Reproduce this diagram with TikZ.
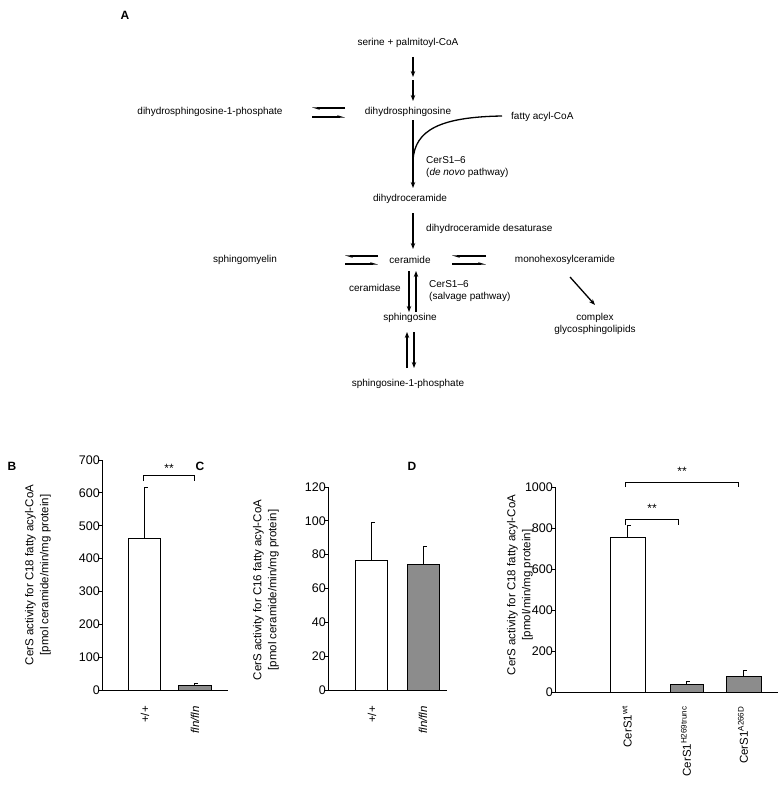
\documentclass[tikz,border=0pt]{standalone}
\usepackage{fontspec}
\setmainfont{Liberation Sans}
\usetikzlibrary{arrows.meta, positioning}
\tikzset{
  txt/.style={font=\fontsize{10}{12}\selectfont, inner sep=1pt},
  rxn/.style={-{Stealth[length=6pt,width=4.5pt]}, line width=1.3pt},
  half/.style={-{Stealth[length=6pt,width=3.5pt,left]}, line width=1.3pt},
  bar/.style={draw, line width=0.9pt},
  ax/.style={line width=0.9pt},
  tick/.style={font=\fontsize{12.5}{14}\selectfont, anchor=east, inner sep=2pt},
  ylab/.style={font=\fontsize{11.5}{15}\selectfont, rotate=90, align=center},
  cat/.style={font=\fontsize{11.5}{14}\selectfont, rotate=90, anchor=east, inner sep=1pt},
  panel/.style={font=\bfseries\fontsize{12}{14}\selectfont}
}
\definecolor{bargray}{rgb}{0.55,0.55,0.55}

\begin{document}
\begin{tikzpicture}[x=1pt,y=-1pt]
  \useasboundingbox (0,0) rectangle (778,800);

  % panel A: pathway
  \node[panel] (lA) at (125,15) {A};
  \node[txt] (ser)  at (408,43)  {serine + palmitoyl-CoA};
  \node[txt] (dhs)  at (408,112) {dihydrosphingosine};
  \node[txt] (dhsp) at (210,112) {dihydrosphingosine-1-phosphate};
  \node[txt, anchor=west] (fac) at (510,117) {fatty acyl-CoA};
  \node[txt] (dhc)  at (410,199) {dihydroceramide};
  \node[txt] (cer)  at (410,260) {ceramide};
  \node[txt] (sm)   at (245,260) {sphingomyelin};
  \node[txt] (mhc)  at (565,260) {monohexosylceramide};
  \node[txt, align=center] (cgs) at (595,324) {complex\\glycosphingolipids};
  \node[txt] (sph)  at (410,318) {sphingosine};
  \node[txt] (sphp) at (408,384) {sphingosine-1-phosphate};
  \node[txt, anchor=west, align=left] (cs1) at (425,167) {CerS1–6\\(\textit{de novo} pathway)};
  \node[txt, anchor=west] (des) at (425,229) {dihydroceramide desaturase};
  \node[txt, anchor=east] (cdase) at (402,288) {ceramidase};
  \node[txt, anchor=west, align=left] (cs2) at (428,291) {CerS1–6\\(salvage pathway)};

  \draw[rxn] (413,57) -- (413,77);
  \draw[rxn] (413,80) -- (413,101);
  \draw[half] (345,108) -- (312,108);
  \draw[half] (312,117) -- (345,117);
  \draw[rxn] (413,120) -- (413,188);
  \draw[line width=1.3pt] (502,116) .. controls (440,117) and (415,130) .. (413,160);
  \draw[rxn] (413,213) -- (413,249);
  \draw[half] (378,256) -- (345,256);
  \draw[half] (345,264) -- (378,264);
  \draw[half] (486,256) -- (452,256);
  \draw[half] (452,264) -- (486,264);
  \draw[rxn] (570,277) -- (595,305);
  \draw[rxn] (409,271) -- (409,312);
  \draw[rxn] (416,312) -- (416,271);
  \draw[rxn] (407,368) -- (407,332);
  \draw[rxn] (414,332) -- (414,368);

  % panel B
  \node[panel] (lB) at (12,466) {B};
  \foreach \v in {0,100,...,700}
    \node[tick] at (102,{690-230/700*\v}) {\v};
  \foreach \v in {0,100,...,700}
    \draw[ax] (102,{690-230/700*\v}) -- (98,{690-230/700*\v});
  \draw[ax] (102,460) -- (102,690) -- (228,690);
  \draw[bar, fill=white] (128,690) rectangle (160,538.5);
  \draw[ax] (144,538.5) -- (144,487) -- (148,487);
  \draw[bar, fill=bargray] (178,690) rectangle (211,685);
  \draw[ax] (194,685) -- (194,683.5) -- (198,683.5);
  \draw[ax] (143,481) -- (143,475) -- (194,475) -- (194,481);
  \node[font=\fontsize{12}{14}\selectfont] at (169,468) {**};
  \node[ylab] at (38,575) {CerS activity for C18 fatty acyl-CoA\\{[pmol ceramide/min/mg protein]}};
  \node[cat] at (145,705) {+/+};
  \node[cat] at (195,705) {\textit{fln/fln}};

  % panel C
  \node[panel] (lC) at (200,466) {C};
  \foreach \v in {0,20,...,120}
    \node[tick] at (328,{690-203/120*\v}) {\v};
  \foreach \v in {0,20,...,120}
    \draw[ax] (328,{690-203/120*\v}) -- (324,{690-203/120*\v});
  \draw[ax] (328,487) -- (328,690) -- (447,690);
  \draw[bar, fill=white] (355,690) rectangle (387,560.6);
  \draw[ax] (371,560.6) -- (371,522.5) -- (375,522.5);
  \draw[bar, fill=bargray] (407,690) rectangle (439,564);
  \draw[ax] (423,564) -- (423,546) -- (427,546);
  \node[ylab] at (266,590) {CerS activity for C16 fatty acyl-CoA\\{[pmol ceramide/min/mg protein]}};
  \node[cat] at (372,705) {+/+};
  \node[cat] at (423,705) {\textit{fln/fln}};

  % panel D
  \node[panel] (lD) at (412,466) {D};
  \foreach \v in {0,200,...,1000}
    \node[tick] at (555,{692-0.205*\v}) {\v};
  \foreach \v in {0,200,...,1000}
    \draw[ax] (555,{692-0.205*\v}) -- (551,{692-0.205*\v});
  \draw[ax] (555,487) -- (555,692) -- (778,692);
  \draw[bar, fill=white] (610,692) rectangle (645,537);
  \draw[ax] (627,537) -- (627,525) -- (631,525);
  \draw[bar, fill=bargray] (670,692) rectangle (703,684);
  \draw[ax] (686,684) -- (686,681) -- (690,681);
  \draw[bar, fill=bargray] (726,692) rectangle (761,676);
  \draw[ax] (743,676) -- (743,670.5) -- (747,670.5);
  \draw[ax] (625,487) -- (625,482) -- (738,482) -- (738,487);
  \draw[ax] (625,525) -- (625,519) -- (678,519) -- (678,525);
  \node[font=\fontsize{12}{14}\selectfont] at (682,471) {**};
  \node[font=\fontsize{12}{14}\selectfont] at (652,508) {**};
  \node[ylab] at (520,585) {CerS activity for C18 fatty acyl-CoA\\{[pmol/min/mg protein]}};
  \node[cat] at (627,705) {CerS1\textsuperscript{wt}};
  \node[cat] at (686,705) {CerS1\textsuperscript{H269trunc}};
  \node[cat] at (743,705) {CerS1\textsuperscript{A266D}};
\end{tikzpicture}
\end{document}
